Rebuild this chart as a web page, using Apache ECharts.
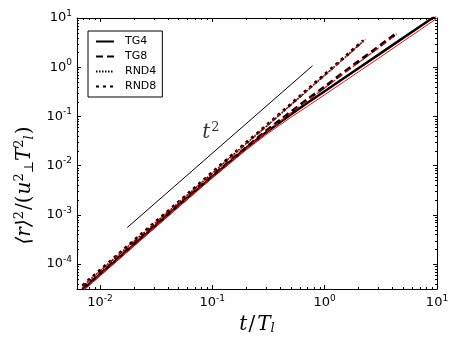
<!DOCTYPE html>
<html>
<head>
<meta charset="utf-8">
<script src="https://cdn.jsdelivr.net/npm/echarts@6/dist/echarts.min.js"></script>
<style>
html, body { margin: 0; padding: 0; background: #fff; }
#chart { width: 463px; height: 348px; }
</style>
</head>
<body>
<div id="chart"></div>
<script>
// t/T_l sample times and <r>^2/(u^2 T_l^2) values
var tTG4 = [0.007, 0.01, 0.02, 0.05, 0.1, 0.2, 0.3, 0.5, 0.7, 1, 1.5, 2, 3, 5, 7, 10];
var tg4 = [2.99e-5, 6.11e-5, 2.44e-4, 1.53e-3, 5.97e-3, 0.0228, 0.0472, 0.1096, 0.1866, 0.324, 0.608, 0.951, 1.78, 3.94, 6.62, 11.5];
var tg4Red = [2.79e-5, 5.70e-5, 2.28e-4, 1.43e-3, 5.57e-3, 0.0208, 0.0421, 0.0955, 0.159, 0.275, 0.515, 0.805, 1.50, 3.35, 5.65, 9.9];

var tTG8 = [0.007, 0.01, 0.02, 0.05, 0.1, 0.2, 0.3, 0.5, 0.7, 1, 1.5, 2, 3, 4.4];
var tg8 = [3.06e-5, 6.25e-5, 2.50e-4, 1.57e-3, 6.11e-3, 0.0233, 0.0500, 0.123, 0.219, 0.399, 0.801, 1.31, 2.57, 4.97];
var tg8Red = [2.91e-5, 5.94e-5, 2.38e-4, 1.49e-3, 5.80e-3, 0.0221, 0.0475, 0.117, 0.208, 0.379, 0.761, 1.24, 2.44, 4.72];

var tRND4 = [0.007, 0.01, 0.02, 0.05, 0.1, 0.2, 0.3, 0.5, 0.7, 1, 1.5, 2.3];
var rnd4 = [3.52e-5, 7.18e-5, 2.87e-4, 1.75e-3, 7.02e-3, 0.0281, 0.0617, 0.171, 0.336, 0.685, 1.54, 3.68];
var rnd4Red = [3.41e-5, 6.96e-5, 2.78e-4, 1.70e-3, 6.81e-3, 0.0273, 0.0598, 0.166, 0.326, 0.664, 1.49, 3.57];

var tRND8 = [0.007, 0.01, 0.02, 0.05, 0.1, 0.2, 0.3, 0.5, 0.7, 1, 1.5, 2.2];
var rnd8 = [3.64e-5, 7.43e-5, 2.97e-4, 1.81e-3, 7.27e-3, 0.0291, 0.0639, 0.177, 0.348, 0.709, 1.59, 3.47];
var rnd8Red = [3.60e-5, 7.30e-5, 2.93e-4, 1.78e-3, 7.15e-3, 0.0286, 0.0630, 0.174, 0.342, 0.697, 1.56, 3.40];

// t^2 guide line
var guideT = [0.0175, 0.78];
var guideR = [5.5e-4, 1.07];

// minor ticks (matplotlib style, 2..9 per decade)
var xMinor = [0.007, 0.008, 0.009, 0.02, 0.03, 0.04, 0.05, 0.06, 0.07, 0.08, 0.09,
    0.2, 0.3, 0.4, 0.5, 0.6, 0.7, 0.8, 0.9, 2, 3, 4, 5, 6, 7, 8, 9];
var yMinor = [4e-5, 5e-5, 6e-5, 7e-5, 8e-5, 9e-5, 2e-4, 3e-4, 4e-4, 5e-4, 6e-4, 7e-4, 8e-4, 9e-4,
    2e-3, 3e-3, 4e-3, 5e-3, 6e-3, 7e-3, 8e-3, 9e-3, 0.02, 0.03, 0.04, 0.05, 0.06, 0.07, 0.08, 0.09,
    0.2, 0.3, 0.4, 0.5, 0.6, 0.7, 0.8, 0.9, 2, 3, 4, 5, 6, 7, 8, 9];

var xMin = 0.00625, xMax = 10;
var yMin = 3.1e-5, yMax = 10;

var chart = echarts.init(document.getElementById('chart'), null, { renderer: 'canvas' });

function pairs(t, r) {
    return t.map(function (v, i) { return [v, r[i]]; });
}

function powLabel(v) {
    var e = Math.round(Math.log(v) / Math.LN10);
    return '10{sup|' + e + '}';
}

var tickRich = {
    sup: { fontSize: 9, fontFamily: 'DejaVu Sans', color: '#000', padding: [0, 0, 9, 0] }
};

var mathFont = 'DejaVu Serif';

function curve(name, t, r, color, width, dash) {
    return {
        name: name,
        type: 'line',
        data: pairs(t, r),
        symbol: 'none',
        silent: true,
        lineStyle: { color: color, width: width, type: dash },
        itemStyle: { color: color }
    };
}

function minorX(params, api) {
    var cs = params.coordSys;
    var x = Math.round(api.coord([api.value(0), 1])[0]) + 0.5;
    var b = cs.y + cs.height, t = cs.y;
    return {
        type: 'group',
        children: [
            { type: 'line', shape: { x1: x, y1: b, x2: x, y2: b - 2 }, style: { stroke: '#000', lineWidth: 1 } },
            { type: 'line', shape: { x1: x, y1: t, x2: x, y2: t + 2 }, style: { stroke: '#000', lineWidth: 1 } }
        ]
    };
}

function minorY(params, api) {
    var cs = params.coordSys;
    var y = Math.round(api.coord([1, api.value(1)])[1]) + 0.5;
    var l = cs.x, r = cs.x + cs.width;
    return {
        type: 'group',
        children: [
            { type: 'line', shape: { x1: l, y1: y, x2: l + 2, y2: y }, style: { stroke: '#000', lineWidth: 1 } },
            { type: 'line', shape: { x1: r, y1: y, x2: r - 2, y2: y }, style: { stroke: '#000', lineWidth: 1 } }
        ]
    };
}

function logAxis(min, max, pos, labels) {
    return {
        type: 'log',
        logBase: 10,
        position: pos,
        min: min,
        max: max,
        axisLine: { show: true, lineStyle: { color: '#000', width: 1 } },
        axisTick: { show: true, inside: true, length: 4, lineStyle: { color: '#000' } },
        minorTick: { show: false },
        splitLine: { show: false },
        axisLabel: {
            show: labels,
            showMinLabel: false,
            color: '#000',
            fontFamily: 'DejaVu Sans',
            fontSize: 13,
            margin: 5,
            formatter: powLabel,
            rich: tickRich
        }
    };
}

var xBottom = logAxis(xMin, xMax, 'bottom', true);
xBottom.name = '{i|t}{n|/}{i|T}{b|l}';
xBottom.nameLocation = 'middle';
xBottom.nameGap = 24;
xBottom.nameTextStyle = {
    rich: {
        i: { fontFamily: mathFont, fontStyle: 'italic', fontSize: 20, color: '#000' },
        n: { fontFamily: mathFont, fontSize: 20, color: '#000', padding: [0, 2, 0, 1] },
        b: { fontFamily: mathFont, fontStyle: 'italic', fontSize: 13, color: '#000', padding: [9, 0, 0, 0] }
    }
};

chart.setOption({
    animation: false,
    textStyle: { fontFamily: 'DejaVu Sans' },
    grid: { left: 77, right: 26, top: 18, bottom: 59 },
    legend: {
        orient: 'vertical',
        left: 88,
        top: 31,
        padding: [5, 6, 5, 7],
        itemWidth: 18,
        itemHeight: 12,
        itemGap: 4,
        borderColor: '#000',
        borderWidth: 1,
        borderRadius: 0,
        backgroundColor: '#fff',
        itemStyle: { color: 'rgba(0,0,0,0)', borderWidth: 0, opacity: 0 },
        textStyle: { color: '#000', fontSize: 11, fontFamily: 'DejaVu Sans', padding: [0, 0, 0, 6] },
        data: ['TG4', 'TG8', 'RND4', 'RND8']
    },
    xAxis: [xBottom, logAxis(xMin, xMax, 'top', false)],
    yAxis: [logAxis(yMin, yMax, 'left', true), logAxis(yMin, yMax, 'right', false)],
    graphic: [{
        type: 'text',
        x: 25,
        y: 185,
        rotation: Math.PI / 2,
        style: {
            text: '{i|⟨r⟩}{s|2}{n|/(}{i|u}{s|2}{b|⊥}{i|T}{s|2}{b|l}{n|)}',
            align: 'center',
            verticalAlign: 'middle',
            textAlign: 'center',
            textVerticalAlign: 'middle',
            rich: {
                i: { fontFamily: mathFont, fontStyle: 'italic', fontSize: 20, fill: '#000', color: '#000' },
                n: { fontFamily: mathFont, fontSize: 20, fill: '#000', color: '#000', padding: [0, 1, 0, 1] },
                s: { fontFamily: mathFont, fontSize: 13, fill: '#000', color: '#000', padding: [0, 0, 10, 0] },
                b: { fontFamily: mathFont, fontStyle: 'italic', fontSize: 13, fill: '#000', color: '#000', padding: [9, 0, 0, 0] }
            }
        }
    }],
    series: [
        curve('TG4', tTG4, tg4, '#000', 2.5, 'solid'),
        curve('TG8', tTG8, tg8, '#000', 3, [7, 4]),
        curve('RND4', tRND4, rnd4, '#000', 1.5, [1.5, 1.5]),
        curve('RND8', tRND8, rnd8, '#000', 3, [3, 4]),
        curve('TG4 model', tTG4, tg4Red, '#ff0000', 1, 'solid'),
        curve('TG8 model', tTG8, tg8Red, '#ff0000', 1.2, [5, 4]),
        curve('RND4 model', tRND4, rnd4Red, '#ff0000', 1, [2, 2]),
        curve('RND8 model', tRND8, rnd8Red, '#ff0000', 1, [3, 3]),
        {
            type: 'line',
            data: pairs(guideT, guideR),
            symbol: 'none',
            silent: true,
            lineStyle: { color: '#000', width: 1 }
        },
        {
            type: 'scatter',
            data: [[0.097, 0.046]],
            symbolSize: 0,
            silent: true,
            label: {
                show: true,
                position: 'inside',
                formatter: '{i|t}{s|2}',
                rich: {
                    i: { fontFamily: mathFont, fontStyle: 'italic', fontSize: 20, color: '#000' },
                    s: { fontFamily: mathFont, fontSize: 13, color: '#000', padding: [0, 0, 10, 1] }
                }
            }
        },
        {
            type: 'custom',
            renderItem: minorX,
            data: xMinor.map(function (v) { return [v, 1]; }),
            silent: true,
            clip: false
        },
        {
            type: 'custom',
            renderItem: minorY,
            data: yMinor.map(function (v) { return [1, v]; }),
            silent: true,
            clip: false
        }
    ]
});
</script>
</body>
</html>
